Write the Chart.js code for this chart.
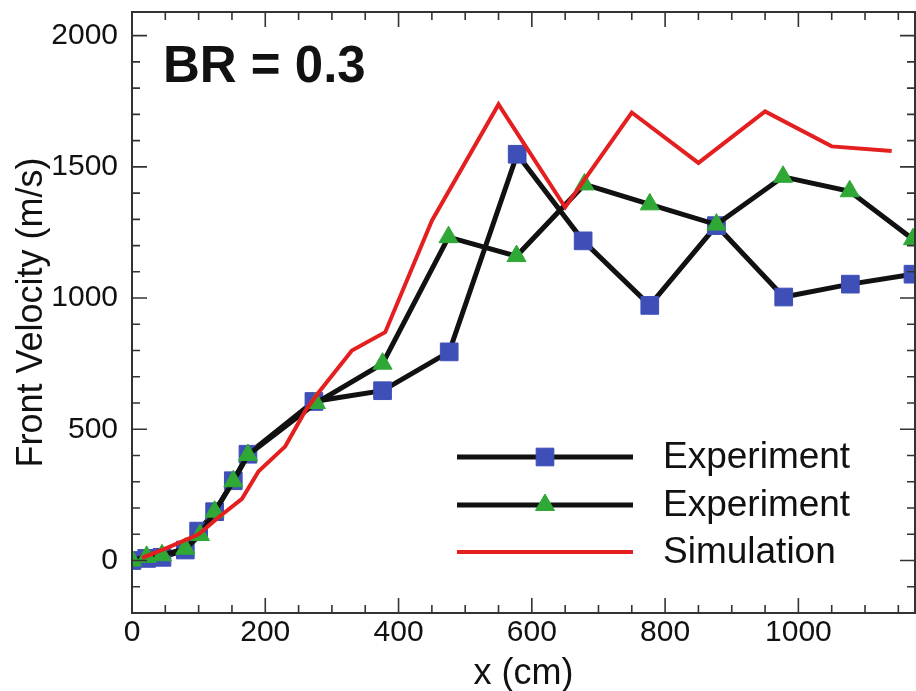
<!DOCTYPE html>
<html>
<head>
<meta charset="utf-8">
<title>Front Velocity - BR = 0.3</title>
<script src="https://cdn.jsdelivr.net/npm/chart.js@4.4.1/dist/chart.umd.min.js"></script>
<style>
  html, body { margin: 0; padding: 0; background: #fff; }
  #wrap { width: 916px; height: 691px; }
</style>
</head>
<body>
<div id="wrap"><canvas id="chart" width="916" height="691"></canvas></div>
<script>
// Dados
const expSquareX = [0, 22, 45, 80, 100, 124, 152, 174, 273, 376, 476, 578, 677, 777, 877, 978, 1078, 1172];
const expSquareY = [0, 8, 12, 40, 112, 186, 304, 405, 606, 647, 795, 1548, 1218, 972, 1276, 1004, 1053, 1091];

const expTriangleX = [0, 22, 45, 80, 102, 124, 152, 174, 276, 376, 475, 577, 679, 777, 877, 977, 1077, 1172];
const expTriangleY = [0, 14, 20, 45, 97, 186, 302, 402, 600, 750, 1232, 1160, 1433, 1357, 1280, 1462, 1407, 1224];

const simX = [15, 50, 100, 130, 165, 190, 230, 260, 280, 330, 380, 450, 550, 650, 750, 850, 950, 1050, 1140];
const simY = [10, 45, 100, 165, 235, 340, 435, 570, 640, 800, 870, 1295, 1738, 1346, 1707, 1515, 1711, 1578, 1560];

const seriesLabels = ['Experiment', 'Experiment', 'Simulation'];
const xTickValues = [0, 200, 400, 600, 800, 1000];
const yTickValues = [0, 500, 1000, 1500, 2000];

const FONT = '"Liberation Sans", Arial, Helvetica, sans-serif';

function toPoints(xs, ys) {
  return xs.map((x, i) => ({ x: x, y: ys[i] }));
}

// Moldura e marcas internas nos quatro lados
const framePlugin = {
  id: 'frame',
  afterDatasetsDraw(chart) {
    const ctx = chart.ctx;
    const area = chart.chartArea;
    const xs = chart.scales.x;
    const ys = chart.scales.y;
    ctx.save();
    ctx.strokeStyle = '#333';
    ctx.lineWidth = 2;
    ctx.beginPath();
    ctx.rect(area.left, area.top, area.right - area.left, area.bottom - area.top);
    ctx.stroke();

    ctx.lineWidth = 1.6;
    ctx.beginPath();
    for (let v = 0; v <= xs.max; v += 50) {
      const px = xs.getPixelForValue(v);
      const len = v % 200 === 0 ? 15 : 8;
      ctx.moveTo(px, area.bottom);
      ctx.lineTo(px, area.bottom - len);
      ctx.moveTo(px, area.top);
      ctx.lineTo(px, area.top + len);
    }
    for (let v = -100; v <= ys.max; v += 100) {
      const py = ys.getPixelForValue(v);
      const len = v % 500 === 0 ? 15 : 8;
      ctx.moveTo(area.left, py);
      ctx.lineTo(area.left + len, py);
      ctx.moveTo(area.right, py);
      ctx.lineTo(area.right - len, py);
    }
    ctx.stroke();
    ctx.restore();
  }
};

// Legenda desenhada com os estilos das séries
const legendPlugin = {
  id: 'customLegend',
  afterDraw(chart) {
    const ctx = chart.ctx;
    const x0 = 457, x1 = 633, textX = 663;
    const rows = [457, 505, 552];
    ctx.save();
    chart.data.datasets.forEach((ds, i) => {
      const y = rows[i];
      ctx.strokeStyle = ds.borderColor;
      ctx.lineWidth = ds.borderWidth;
      ctx.beginPath();
      ctx.moveTo(x0, y);
      ctx.lineTo(x1, y);
      ctx.stroke();
      if (ds.pointRadius > 0) {
        ctx.fillStyle = ds.pointBackgroundColor;
        ctx.strokeStyle = ds.pointBorderColor;
        ctx.lineWidth = ds.pointBorderWidth;
        Chart.helpers.drawPoint(ctx, {
          pointStyle: ds.pointStyle,
          radius: ds.pointRadius,
          rotation: 0,
          borderWidth: ds.pointBorderWidth
        }, (x0 + x1) / 2, y);
      }
      ctx.fillStyle = '#111';
      ctx.font = '37px ' + FONT;
      ctx.textBaseline = 'middle';
      ctx.textAlign = 'left';
      ctx.fillText(ds.label, textX, y + 1);
    });
    ctx.font = 'bold 51px ' + FONT;
    ctx.fillStyle = '#111';
    ctx.textBaseline = 'alphabetic';
    ctx.fillText('BR = 0.3', 163, 82);
    ctx.restore();
  }
};

const datasets = [
  {
    label: seriesLabels[0],
    data: toPoints(expSquareX, expSquareY),
    borderColor: '#111',
    borderWidth: 5,
    pointStyle: 'rect',
    pointRadius: 12.5,
    pointBackgroundColor: '#3f4fb8',
    pointBorderColor: '#3f4fb8',
    pointBorderWidth: 1,
    order: 2
  },
  {
    label: seriesLabels[1],
    data: toPoints(expTriangleX, expTriangleY),
    borderColor: '#111',
    borderWidth: 5,
    pointStyle: 'triangle',
    pointRadius: 11,
    pointBackgroundColor: '#2fa836',
    pointBorderColor: '#2fa836',
    pointBorderWidth: 1,
    order: 1
  },
  {
    label: seriesLabels[2],
    data: toPoints(simX, simY),
    borderColor: '#e3201f',
    borderWidth: 4,
    pointRadius: 0,
    order: 0
  }
];

new Chart(document.getElementById('chart'), {
  type: 'scatter',
  data: { datasets: datasets },
  plugins: [framePlugin, legendPlugin],
  options: {
    responsive: false,
    animation: false,
    showLine: true,
    elements: { line: { tension: 0, borderJoinStyle: 'miter' } },
    layout: { autoPadding: false, padding: { top: 12, right: 1, left: 0, bottom: 0 } },
    plugins: {
      legend: { display: false },
      tooltip: { enabled: false }
    },
    scales: {
      x: {
        type: 'linear',
        min: 0,
        max: 1175,
        afterFit(scale) {
          scale.height = 78;
          scale.paddingLeft = 0;
          scale.paddingRight = 0;
        },
        afterBuildTicks(scale) { scale.ticks = xTickValues.map(v => ({ value: v })); },
        grid: { display: false, drawTicks: false },
        border: { display: false },
        ticks: {
          padding: 2,
          color: '#111',
          maxRotation: 0,
          font: { family: FONT, size: 30 },
          callback: v => String(v)
        },
        title: { display: true, text: 'x (cm)', color: '#111', padding: { top: 0, bottom: -5 }, font: { family: FONT, size: 36 } }
      },
      y: {
        type: 'linear',
        min: -200,
        max: 2090,
        afterFit(scale) {
          scale.width = 132;
          scale.paddingTop = 0;
          scale.paddingBottom = 0;
        },
        afterBuildTicks(scale) { scale.ticks = yTickValues.map(v => ({ value: v })); },
        grid: { display: false, drawTicks: false },
        border: { display: false },
        ticks: {
          padding: 14,
          color: '#111',
          font: { family: FONT, size: 30 },
          callback: v => String(v)
        },
        title: { display: true, text: 'Front Velocity (m/s)', color: '#111', padding: { top: 10, bottom: 0 }, font: { family: FONT, size: 36 } }
      }
    }
  }
});
</script>
</body>
</html>
